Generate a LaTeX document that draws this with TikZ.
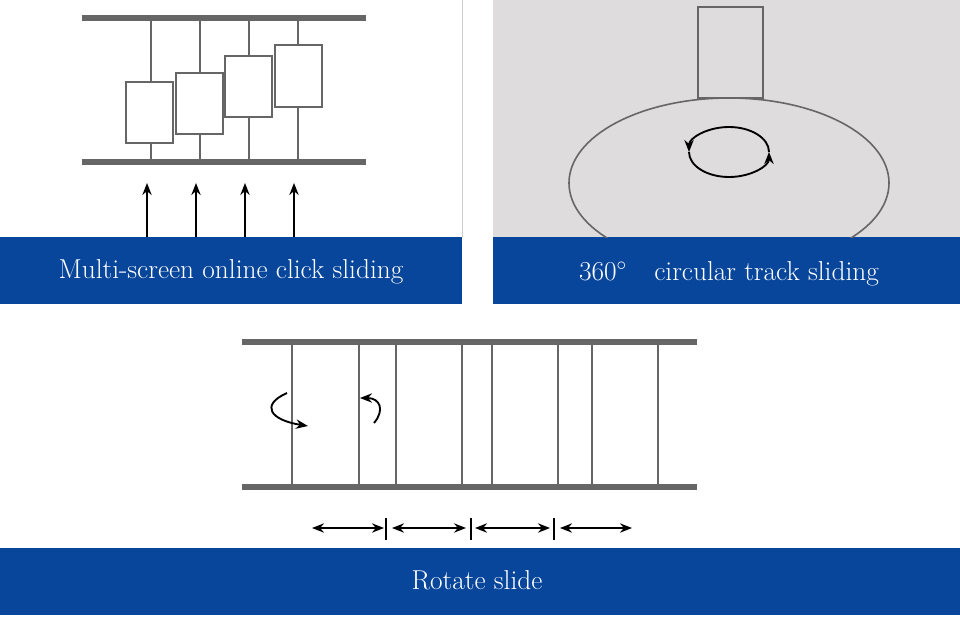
\documentclass[tikz,border=0pt]{standalone}
\usepackage{tikz}
\usetikzlibrary{positioning,shapes,arrows.meta}
\definecolor{barblue}{HTML}{08469C}
\definecolor{panelgray}{HTML}{DEDCDD}
\definecolor{railgray}{HTML}{666666}
\tikzstyle{bar}=[fill=barblue, draw=none]
\tikzstyle{rail}=[draw=railgray, line width=4pt]
\tikzstyle{post}=[draw=railgray, line width=2pt]
\tikzstyle{screen}=[draw=railgray, fill=white, line width=1.2pt]
\tikzstyle{caption}=[text=white, font=\fontsize{20.5}{24}\selectfont]
\tikzstyle{arr}=[black, line width=1.4pt, -{Stealth[length=9pt,width=7pt]}]

\begin{document}
\begin{tikzpicture}[x=0.75pt, y=-0.75pt]
    \useasboundingbox (0,0) rectangle (960,618);
    % panels
    \fill[panelgray] (493,0) rectangle (960,237);
    \draw[gray!40] (462,0) -- (462,237);
    \fill[bar] (0,237) rectangle (462,304);
    \fill[bar] (493,237) rectangle (960,304);
    \fill[bar] (0,548) rectangle (960,615);

    % multi-screen
    \foreach \x in {151,200,249,298}
        \draw[post] (\x,18) -- (\x,162);
    \draw[rail] (82,18) -- (366,18);
    \draw[rail] (82,162) -- (366,162);
    \draw[screen] (126,82) rectangle (173,143);
    \draw[screen] (176,73) rectangle (223,134);
    \draw[screen] (225,56) rectangle (272,117);
    \draw[screen] (275,45) rectangle (322,107);
    \foreach \x in {147,196,245,294} {
        \coordinate (a\x) at (\x,237);
        \coordinate (b\x) at (\x,183);
        \draw[arr] (a\x) -- (b\x);
    }
    \node(capa)[caption] at (231,272) {Multi-screen online click sliding};

    % circular track
    \begin{scope}
        \clip (493,0) rectangle (960,237);
        \draw[railgray, line width=1.2pt] (729,183) ellipse [x radius=160, y radius=85];
    \end{scope}
    \draw[railgray, line width=1.2pt] (698,7) rectangle (763,98);
    \draw[arr] (769,152) arc[start angle=0, end angle=-180, x radius=40, y radius=25];
    \draw[arr] (689,152) arc[start angle=180, end angle=0, x radius=40, y radius=25];
    \node(capb)[caption] at (729,274) {360$^{\circ}$\quad circular track sliding};

    % rotate slide
    \foreach \x in {292,359,396,462,492,558,592,658}
        \draw[post] (\x,342) -- (\x,487);
    \draw[rail] (242,342) -- (697,342);
    \draw[rail] (242,487) -- (697,487);
    \draw[arr] (287,393) .. controls (260,405) and (270,420) .. (308,426);
    \draw[arr] (374,423) .. controls (385,410) and (380,398) .. (360,398);
    \foreach \x/\y in {312/384, 392/466, 475/550, 560/632}
        \draw[black, line width=1.4pt, {Stealth[length=9pt,width=7pt]}-{Stealth[length=9pt,width=7pt]}] (\x,528) -- (\y,528);
    \foreach \x in {386,471,554}
        \draw[black, line width=2pt] (\x,518) -- (\x,540);
    \node(capc)[caption] at (477,580) {Rotate slide};
\end{tikzpicture}
\end{document}
